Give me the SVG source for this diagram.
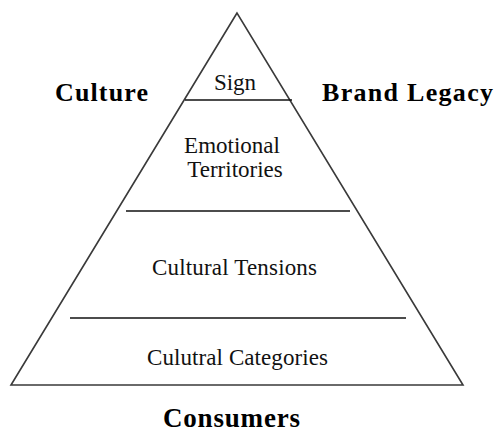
<svg xmlns="http://www.w3.org/2000/svg" width="495" height="434" viewBox="0 0 495 434">
  <style>
    .outline { fill: none; stroke: #3a3a3a; stroke-width: 1.6; stroke-linejoin: miter; }
    .tier { stroke: #111; stroke-width: 1.6; }
    .lvl { font-family: "Liberation Serif", "Times New Roman", serif; font-size: 23px; fill: #111; text-anchor: middle; }
    .side { font-family: "Liberation Serif", "Times New Roman", serif; font-size: 26px; font-weight: bold; fill: #000; text-anchor: middle; }
  </style>
  <rect width="495" height="434" fill="#fff"/>

  <g id="pyramid">
    <polygon class="outline" points="237,13 11,385 463,385"/>
  </g>

  <g id="connectors">
    <line class="tier" x1="185" y1="100" x2="292" y2="100"/>
    <line class="tier" x1="126" y1="211" x2="350" y2="211"/>
    <line class="tier" x1="70" y1="318" x2="406" y2="318"/>
  </g>

  <g id="sign">
    <text class="lvl" x="235" y="90">Sign</text>
  </g>
  <g id="emotional-territories">
    <text class="lvl" x="232" y="153">Emotional</text>
    <text class="lvl" x="235" y="177">Territories</text>
  </g>
  <g id="cultural-tensions">
    <text class="lvl" x="234.5" y="275" textLength="165" lengthAdjust="spacing">Cultural Tensions</text>
  </g>
  <g id="cultural-categories">
    <text class="lvl" x="237.5" y="365" textLength="181" lengthAdjust="spacing">Culutral Categories</text>
  </g>

  <g id="culture">
    <text class="side" x="101.5" y="101" textLength="93" lengthAdjust="spacing">Culture</text>
  </g>
  <g id="brand-legacy">
    <text class="side" x="407.5" y="101" textLength="171" lengthAdjust="spacing">Brand Legacy</text>
  </g>
  <g id="consumers">
    <text class="side" x="231.5" y="427" style="font-size:27px" textLength="137" lengthAdjust="spacing">Consumers</text>
  </g>
</svg>
